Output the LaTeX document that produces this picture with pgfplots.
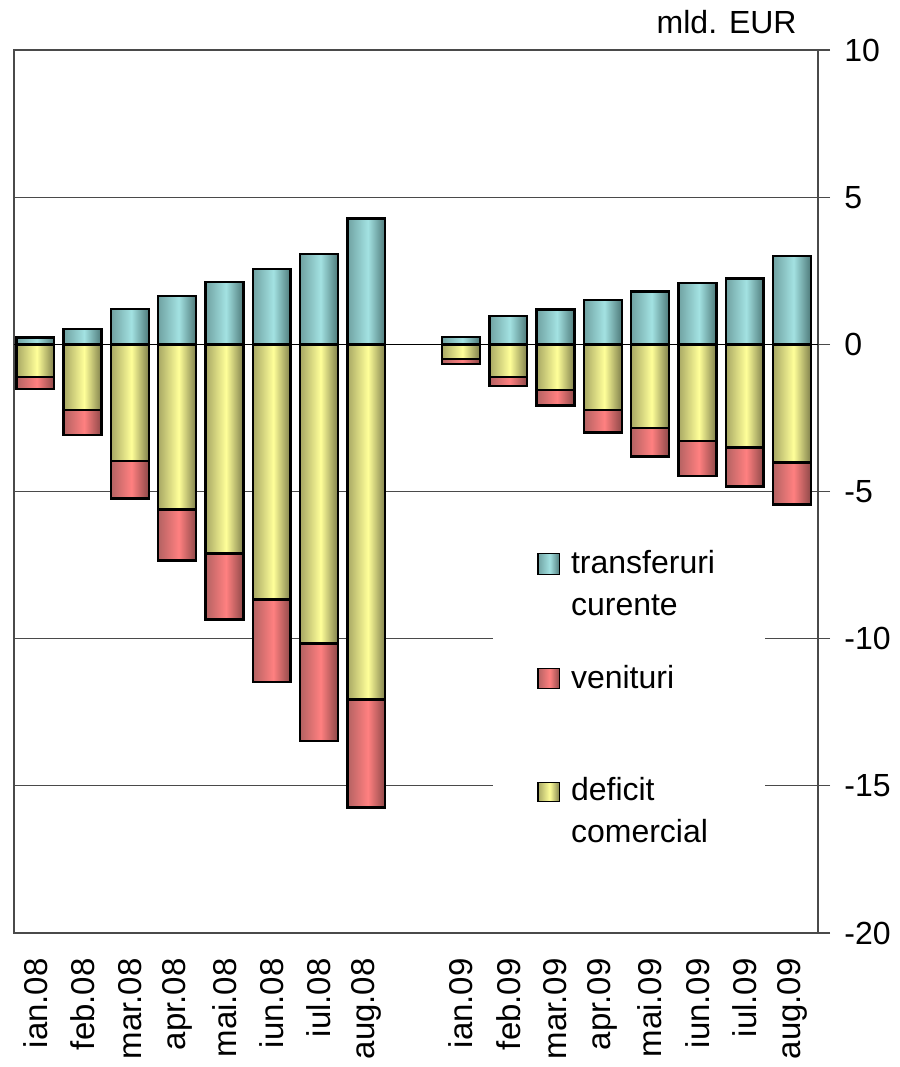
\documentclass[border=0pt]{standalone}
\usepackage{pgfplots}
\pgfplotsset{compat=1.18}
\usepackage{pgfplotstable}
\usepackage{fontspec}
\setmainfont{Liberation Sans}
\usetikzlibrary{calc}

\definecolor{tealL}{HTML}{70A2A2}
\definecolor{tealC}{HTML}{A3E2E2}
\definecolor{tealR}{HTML}{4E7A7A}
\definecolor{yelL}{HTML}{A8A864}
\definecolor{yelC}{HTML}{FFFF99}
\definecolor{yelR}{HTML}{80804C}
\definecolor{redL}{HTML}{B46262}
\definecolor{redC}{HTML}{FF8080}
\definecolor{redR}{HTML}{8E4848}
\definecolor{gridc}{HTML}{4A4A4A}

\pgfdeclarehorizontalshading{tealsh}{100bp}{color(0bp)=(tealL); color(25bp)=(tealL); color(52bp)=(tealC); color(75bp)=(tealR); color(100bp)=(tealR)}
\pgfdeclarehorizontalshading{yelsh}{100bp}{color(0bp)=(yelL); color(25bp)=(yelL); color(52bp)=(yelC); color(75bp)=(yelR); color(100bp)=(yelR)}
\pgfdeclarehorizontalshading{redsh}{100bp}{color(0bp)=(redL); color(25bp)=(redL); color(52bp)=(redC); color(75bp)=(redR); color(100bp)=(redR)}

\newcommand{\yfont}{\fontsize{16}{19}\selectfont}
\newcommand{\xfont}{\fontsize{16.5}{19}\selectfont}

% m = month slot, trans = transferuri curente, def = deficit comercial, ven = venituri
\pgfplotstableread{
m   trans   def     ven
0   0.23   -1.10   -0.41
1   0.53   -2.24   -0.84
2   1.20   -3.97   -1.27
3   1.65   -5.61   -1.73
4   2.11   -7.10   -2.25
5   2.55   -8.67   -2.80
6   3.07  -10.17   -3.30
7   4.27  -12.06   -3.67
9   0.24   -0.50   -0.16
10  0.96   -1.10   -0.32
11  1.19   -1.55   -0.53
12  1.50   -2.23   -0.76
13  1.80   -2.84   -0.97
14  2.09   -3.28   -1.19
15  2.24   -3.50   -1.33
16  3.00   -4.02   -1.42
}\cab

\pgfplotsset{
  barstyle/.style={bar shift=0pt, draw=black, line width=1.2pt, shade, shading=#1sh},
}

\begin{document}
\begin{tikzpicture}
\begin{axis}[name=ax,
  scale only axis, width=402pt, height=441.5pt,
  xmin=-0.45, xmax=16.55, ymin=-20, ymax=10,
  ytick={-20,-15,-10,-5,0,5,10},
  yticklabels={-20,-15,-10,-5,0,5,10},
  ytick pos=right, yticklabel pos=right,
  tick align=outside, major tick length=6pt,
  ytick style={color=gridc, line width=0.6pt},
  yticklabel style={anchor=west, font=\yfont, inner sep=0pt, xshift=7pt},
  ymajorgrids, grid style={gridc, line width=0.5pt},
  axis line style={gridc, line width=0.6pt},
  xtick={0,1,2,3,4,5,6,7,9,10,11,12,13,14,15,16},
  xticklabels={ian.08,feb.08,mar.08,apr.08,mai.08,iun.08,iul.08,aug.08,
               ian.09,feb.09,mar.09,apr.09,mai.09,iun.09,iul.09,aug.09},
  xtick style={draw=none},
  xticklabel style={rotate=90, anchor=east, font=\xfont, inner sep=0pt},
  xticklabel shift=6.5pt,
  ybar, bar width=0.8,
]
\draw[black, line width=0.6pt] (axis cs:-0.45,0) -- (axis cs:16.55,0);

% one plot per bar, so that every bar gets its own shading
\pgfplotsinvokeforeach{0,1,2,3,4,5,6,7,9,10,11,12,13,14,15,16}{
  \addplot[barstyle=teal, x filter/.expression={abs(x-#1)<0.1 ? x : nan}]
    table[x=m, y=trans]{\cab};
  \addplot[barstyle=red, x filter/.expression={abs(x-#1)<0.1 ? x : nan}]
    table[x=m, y expr=\thisrow{def}+\thisrow{ven}]{\cab};
  \addplot[barstyle=yel, x filter/.expression={abs(x-#1)<0.1 ? x : nan}]
    table[x=m, y=def]{\cab};
}

% legend
\fill[white] (axis cs:9.67,-5.75) rectangle (axis cs:15.42,-17.9);
\draw[black, line width=0.7pt, shade, shading=tealsh]
  (axis cs:10.63,-7.10) rectangle (axis cs:11.09,-7.82);
\node[anchor=base west, inner sep=0pt, font=\yfont] at (axis cs:11.32,-7.78) {transferuri};
\node[anchor=base west, inner sep=0pt, font=\yfont] at (axis cs:11.32,-9.21) {curente};
\draw[black, line width=0.7pt, shade, shading=redsh]
  (axis cs:10.63,-11.01) rectangle (axis cs:11.09,-11.69);
\node[anchor=base west, inner sep=0pt, font=\yfont] at (axis cs:11.32,-11.69) {venituri};
\draw[black, line width=0.7pt, shade, shading=yelsh]
  (axis cs:10.63,-14.88) rectangle (axis cs:11.09,-15.53);
\node[anchor=base west, inner sep=0pt, font=\yfont] at (axis cs:11.32,-15.49) {deficit};
\node[anchor=base west, inner sep=0pt, font=\yfont] at (axis cs:11.32,-16.92) {comercial};
\end{axis}
\node[anchor=base east, inner sep=0pt, font=\yfont] at ($(ax.north east)+(-10.5pt,8pt)$) {mld. EUR};
\pgfresetboundingbox
\path[use as bounding box] ($(ax.south west)+(-7pt,-67pt)$) rectangle ($(ax.north east)+(41pt,25pt)$);
\end{tikzpicture}
\end{document}
